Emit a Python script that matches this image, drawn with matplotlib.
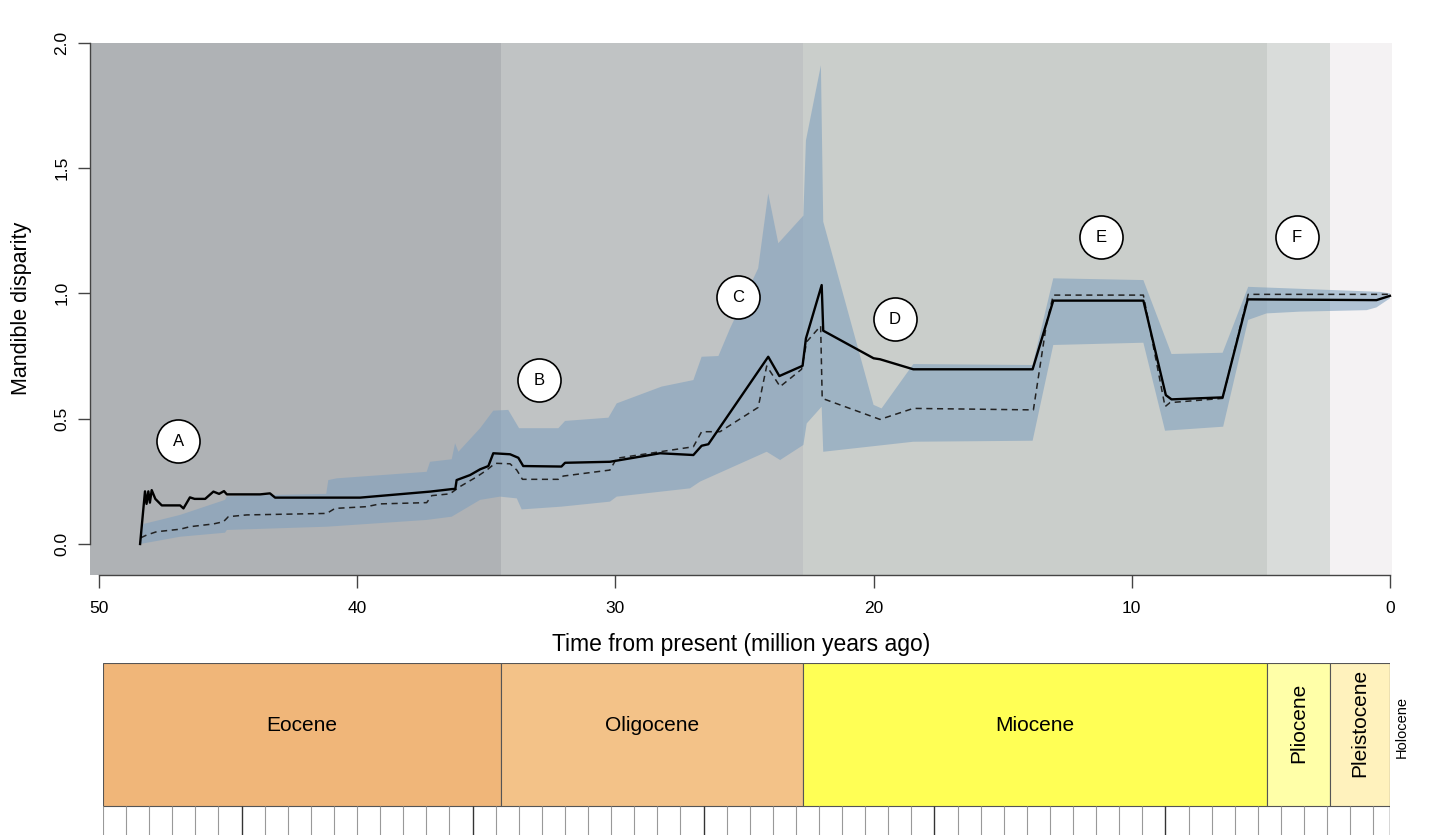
import numpy as np
import matplotlib
matplotlib.use("Agg")
import matplotlib.pyplot as plt
from matplotlib import font_manager
from matplotlib.patches import Rectangle

plt.rcParams['font.family'] = ['Liberation Sans', 'DejaVu Sans']
installed = {f.name for f in font_manager.fontManager.ttflist}
narrow = 'Liberation Sans Narrow' if 'Liberation Sans Narrow' in installed else 'Liberation Sans'

# epochs (start age, Ma) as drawn on the chart
epoch_names = ["Eocene", "Oligocene", "Miocene", "Pliocene", "Pleistocene", "Holocene"]
epoch_start = [50.35, 34.43, 22.74, 4.76, 2.32, 0.0117]
epoch_end = [34.43, 22.74, 4.76, 2.32, 0.0117, -0.08]
shade_cols = ["#afb2b5", "#c0c3c4", "#cacecb", "#d9dcda", "#f4f2f3", "#f4f2f3"]
scale_cols = ["#f0b679", "#f3c288", "#ffff55", "#ffffa8", "#fff2bd", "#fef2e0"]

# observed mandible disparity (solid)
obs_t = [48.41, 48.22, 48.16, 48.09, 48.03, 47.96, 47.82, 47.57, 46.86, 46.73,
         46.48, 46.3, 45.89, 45.57, 45.35, 45.16, 45.05, 43.76, 43.38, 43.18,
         39.89, 37.18, 36.34, 36.2, 36.15, 35.63, 35.24, 34.92, 34.73, 34.08,
         33.76, 33.57, 32.09, 31.95, 30.21, 28.27, 26.98, 26.66, 26.4, 24.08,
         23.65, 22.75, 22.62, 22.01, 21.95, 20.0, 19.75, 18.46, 13.84, 13.04,
         9.55, 8.68, 8.46, 6.48, 5.51, 0.52, 0.0]
obs_d = [0.0, 0.21, 0.16, 0.21, 0.165, 0.215, 0.18, 0.154, 0.154, 0.142,
         0.186, 0.18, 0.18, 0.209, 0.2, 0.211, 0.198, 0.198, 0.202, 0.185,
         0.185, 0.209, 0.219, 0.22, 0.255, 0.275, 0.298, 0.311, 0.362, 0.358,
         0.344, 0.311, 0.309, 0.324, 0.328, 0.362, 0.355, 0.392, 0.398, 0.747,
         0.67, 0.711, 0.82, 1.033, 0.851, 0.741, 0.737, 0.697, 0.697, 0.971,
         0.971, 0.594, 0.577, 0.585, 0.976, 0.973, 0.99]

# simulated median (dashed)
sim_t = [48.38, 48.15, 47.77, 46.86, 46.48, 45.57, 45.18, 44.99, 44.28, 41.18,
         40.86, 39.63, 39.12, 37.31, 37.11, 36.41, 36.02, 35.37, 34.98, 34.66,
         34.08, 33.82, 33.6, 32.21, 32.02, 30.21, 29.95, 26.98, 26.66, 25.95,
         24.47, 24.14, 23.62, 22.79, 22.59, 22.05, 21.99, 19.75, 18.46, 13.81,
         13.3, 13.04, 9.55, 8.71, 8.52, 6.48, 5.49, 0.0]
sim_d = [0.025, 0.036, 0.049, 0.059, 0.069, 0.08, 0.089, 0.109, 0.116, 0.122,
         0.142, 0.149, 0.16, 0.165, 0.193, 0.2, 0.229, 0.268, 0.295, 0.322,
         0.32, 0.295, 0.258, 0.258, 0.271, 0.295, 0.342, 0.388, 0.448, 0.448,
         0.545, 0.71, 0.628, 0.697, 0.807, 0.87, 0.581, 0.497, 0.541, 0.535,
         0.88, 0.993, 0.993, 0.548, 0.564, 0.581, 0.996, 0.996]

# 95% envelope
up_t = [48.41, 48.28, 47.64, 46.86, 45.7, 45.12, 45.05, 43.5, 41.2, 41.12,
        40.79, 37.31, 37.18, 36.34, 36.21, 36.08, 35.24, 34.73, 34.15, 33.73,
        32.21, 31.95, 30.27, 29.95, 28.21, 26.98, 26.66, 26.01, 25.56, 24.47,
        24.08, 23.69, 22.72, 22.62, 22.04, 21.95, 20.0, 19.69, 18.46, 13.84,
        13.04, 9.55, 8.46, 6.48, 5.49, 0.39, 0.0]
up_d = [0.01, 0.08, 0.096, 0.116, 0.156, 0.176, 0.19, 0.195, 0.2, 0.255,
        0.262, 0.288, 0.328, 0.338, 0.402, 0.368, 0.462, 0.532, 0.535, 0.462,
        0.462, 0.491, 0.504, 0.561, 0.628, 0.654, 0.747, 0.75, 0.86, 1.1,
        1.399, 1.2, 1.31, 1.61, 1.91, 1.286, 0.555, 0.541, 0.718, 0.714,
        1.06, 1.053, 0.758, 0.763, 1.026, 1.006, 1.0]
lo_t = [48.41, 46.86, 45.12, 45.05, 41.18, 37.31, 36.34, 35.24, 34.47, 33.82,
        33.63, 32.09, 30.21, 29.95, 27.11, 26.72, 24.14, 23.62, 22.72, 22.59,
        22.01, 21.95, 18.46, 13.84, 13.04, 9.55, 8.71, 6.46, 5.49, 4.78,
        3.49, 0.9, 0.52, 0.0]
lo_d = [0.0, 0.029, 0.045, 0.056, 0.069, 0.096, 0.109, 0.176, 0.189, 0.182,
        0.138, 0.149, 0.169, 0.189, 0.222, 0.249, 0.368, 0.335, 0.395, 0.481,
        0.548, 0.368, 0.408, 0.412, 0.794, 0.803, 0.452, 0.468, 0.894, 0.92,
        0.927, 0.933, 0.944, 0.98]

# event labels
ev_lab = ["A", "B", "C", "D", "E", "F"]
ev_t = [46.94, 32.96, 25.25, 19.17, 11.19, 3.6]
ev_d = [0.41, 0.654, 0.985, 0.897, 1.224, 1.224]

W, H = 1446, 838
fig = plt.figure(figsize=(W / 100, H / 100), dpi=100)

ax = fig.add_axes([90 / W, 1 - 575 / H, (1392 - 90) / W, (575 - 42.7) / H])
ax.set_xlim(50.35, -0.08)
ax.set_ylim(-0.1237, 2.0)
for s, e, c in zip(epoch_start, epoch_end, shade_cols):
    ax.axvspan(s, e, color=c, lw=0, zorder=0)

env_t = up_t + lo_t[::-1]
env_d = up_d + lo_d[::-1]
ax.fill(env_t, env_d, color="#7fa0be", alpha=0.58, lw=0, zorder=1)
ax.plot(sim_t, sim_d, color="#222222", lw=1.1, ls=(0, (4, 3)), zorder=3)
ax.plot(obs_t, obs_d, color="black", lw=1.7, zorder=4)

ax.plot(ev_t, ev_d, "o", ms=31, mfc="white", mec="black", mew=1.2, zorder=5)
for lab, t, d in zip(ev_lab, ev_t, ev_d):
    ax.text(t, d, lab, ha="center", va="center", fontsize=12, zorder=6)

for sp in ["top", "right"]:
    ax.spines[sp].set_visible(False)
ax.spines["left"].set_bounds(0, 2)
ax.spines["bottom"].set_bounds(50, 0)
for sp in ["left", "bottom"]:
    ax.spines[sp].set_color("#444444")
    ax.spines[sp].set_linewidth(1.0)
ax.set_xticks([50, 40, 30, 20, 10, 0])
ax.set_yticks([0.0, 0.5, 1.0, 1.5, 2.0])
ax.set_yticklabels(["0.0", "0.5", "1.0", "1.5", "2.0"], rotation=90, va="center")
ax.tick_params(direction="out", length=9, width=1.0, color="#444444", labelsize=12.5)
ax.tick_params(axis="x", pad=10)
ax.tick_params(axis="y", pad=6)
ax.set_xlabel("Time from present (million years ago)", fontsize=16.5, labelpad=12)
ax.set_ylabel("Mandible disparity", fontsize=15.5, labelpad=16)

# geological time scale
tax = fig.add_axes([103 / W, 1 - 835 / H, (1390 - 103) / W, (835 - 663) / H])
tax.set_xlim(49.85, 0)
tax.set_ylim(-0.203, 1.0)
tax.axis("off")
for name, s, e, c in zip(epoch_names, epoch_start, epoch_end, scale_cols):
    s = min(s, 49.85)
    e = max(e, 0)
    tax.add_patch(Rectangle((e, 0), s - e, 1, facecolor=c, edgecolor="#555555", lw=0.8))
    mid = (s + e) / 2
    if name in ("Eocene", "Oligocene", "Miocene"):
        tax.text(mid, 0.565, name, ha="center", va="center", fontsize=15, family=narrow)
    elif name == "Holocene":
        tax.text(-0.45, 0.55, name, ha="center", va="center", rotation=90,
                 fontsize=10.5, clip_on=False)
    else:
        tax.text(mid, 0.58, name, ha="center", va="center", rotation=90, fontsize=15)

step = 0.8946
ticks = 49.85 - step * np.arange(56)
major = np.zeros(56, bool)
major[6::10] = True
tax.vlines(ticks[~major], -0.203, 0, color="#999999", lw=0.8)
tax.vlines(ticks[major], -0.203, 0, color="#333333", lw=1.0)
tax.vlines([0], -0.203, 0, color="#333333", lw=1.0)

fig.savefig("out.png", dpi=100)
